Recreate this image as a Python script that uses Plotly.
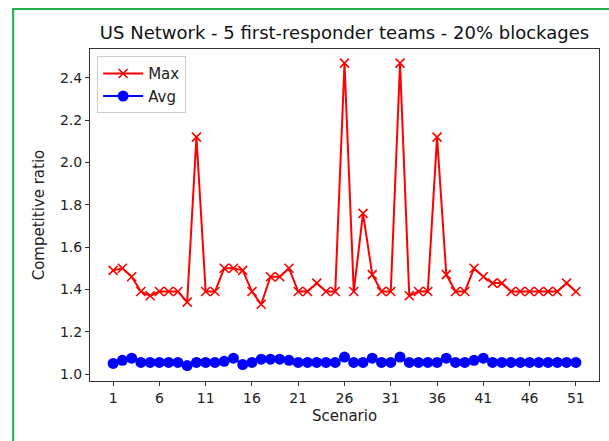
import plotly.graph_objects as go

# Scenario numbers and the two competitive-ratio series
scenarios = list(range(1, 52))

max_ratio = [
    1.49, 1.50, 1.46, 1.39, 1.37, 1.39, 1.39, 1.39, 1.34, 2.12,
    1.39, 1.39, 1.50, 1.50, 1.49, 1.39, 1.33, 1.46, 1.46, 1.50,
    1.39, 1.39, 1.43, 1.39, 1.39, 2.47, 1.39, 1.76, 1.47, 1.39,
    1.39, 2.47, 1.37, 1.39, 1.39, 2.12, 1.47, 1.39, 1.39, 1.50,
    1.46, 1.43, 1.43, 1.39, 1.39, 1.39, 1.39, 1.39, 1.39, 1.43,
    1.39,
]

avg_ratio = [
    1.05, 1.065, 1.075, 1.055, 1.055, 1.055, 1.055, 1.055, 1.04, 1.055,
    1.055, 1.055, 1.06, 1.075, 1.045, 1.055, 1.07, 1.07, 1.07, 1.065,
    1.055, 1.055, 1.055, 1.055, 1.055, 1.08, 1.055, 1.055, 1.075, 1.055,
    1.055, 1.08, 1.055, 1.055, 1.055, 1.055, 1.075, 1.055, 1.055, 1.065,
    1.075, 1.055, 1.055, 1.055, 1.055, 1.055, 1.055, 1.055, 1.055, 1.055,
    1.055,
]

x_tick_vals = list(range(1, 52, 5))
y_tick_vals = [1.0, 1.2, 1.4, 1.6, 1.8, 2.0, 2.2, 2.4]

FONT = "DejaVu Sans"

fig = go.Figure()

fig.add_trace(go.Scatter(
    x=scenarios, y=max_ratio, name="Max", mode="lines+markers",
    line=dict(color="#ff0000", width=2),
    marker=dict(symbol="x-thin", size=9, color="#ff0000",
                line=dict(color="#ff0000", width=1.6)),
))

fig.add_trace(go.Scatter(
    x=scenarios, y=avg_ratio, name="Avg", mode="lines+markers",
    line=dict(color="#0000ff", width=2),
    marker=dict(symbol="circle", size=11, color="#0000ff"),
))

axis_common = dict(
    showline=True, mirror=True, linecolor="#333333", linewidth=1,
    ticks="outside", ticklen=4, tickcolor="#333333",
    showgrid=False, zeroline=False,
    tickfont=dict(family=FONT, size=14, color="#222222"),
)

fig.update_xaxes(
    range=[-1.5, 53.5], tickvals=x_tick_vals,
    title=dict(text="Scenario", standoff=5,
               font=dict(family=FONT, size=15, color="#222222")),
    **axis_common,
)
fig.update_yaxes(
    range=[0.967, 2.537], tickvals=y_tick_vals, tickformat=".1f",
    title=dict(text="Competitive ratio", standoff=11,
               font=dict(family=FONT, size=15, color="#222222")),
    **axis_common,
)

# Green frame around the figure
fig.add_shape(
    type="rect", xref="paper", yref="paper",
    x0=-0.151, y0=-0.4, x1=1.2, y1=1.1205,
    line=dict(color="#1fae4b", width=2), fillcolor="rgba(0,0,0,0)",
    layer="below",
)

fig.update_layout(
    width=609, height=441,
    margin=dict(l=90, r=10, t=49, b=60),
    paper_bgcolor="white", plot_bgcolor="white",
    title=dict(text="US Network - 5 first-responder teams - 20% blockages",
               x=0.5, xref="paper", y=0.925, yref="container",
               xanchor="center", yanchor="middle",
               font=dict(family=FONT, size=18, color="#111111")),
    legend=dict(x=0.014, y=0.978, xanchor="left", yanchor="top",
                bgcolor="white", bordercolor="#cccccc", borderwidth=1,
                font=dict(family=FONT, size=15, color="#222222"),
                itemwidth=40),
    showlegend=True,
)

fig.write_html("out.html")
